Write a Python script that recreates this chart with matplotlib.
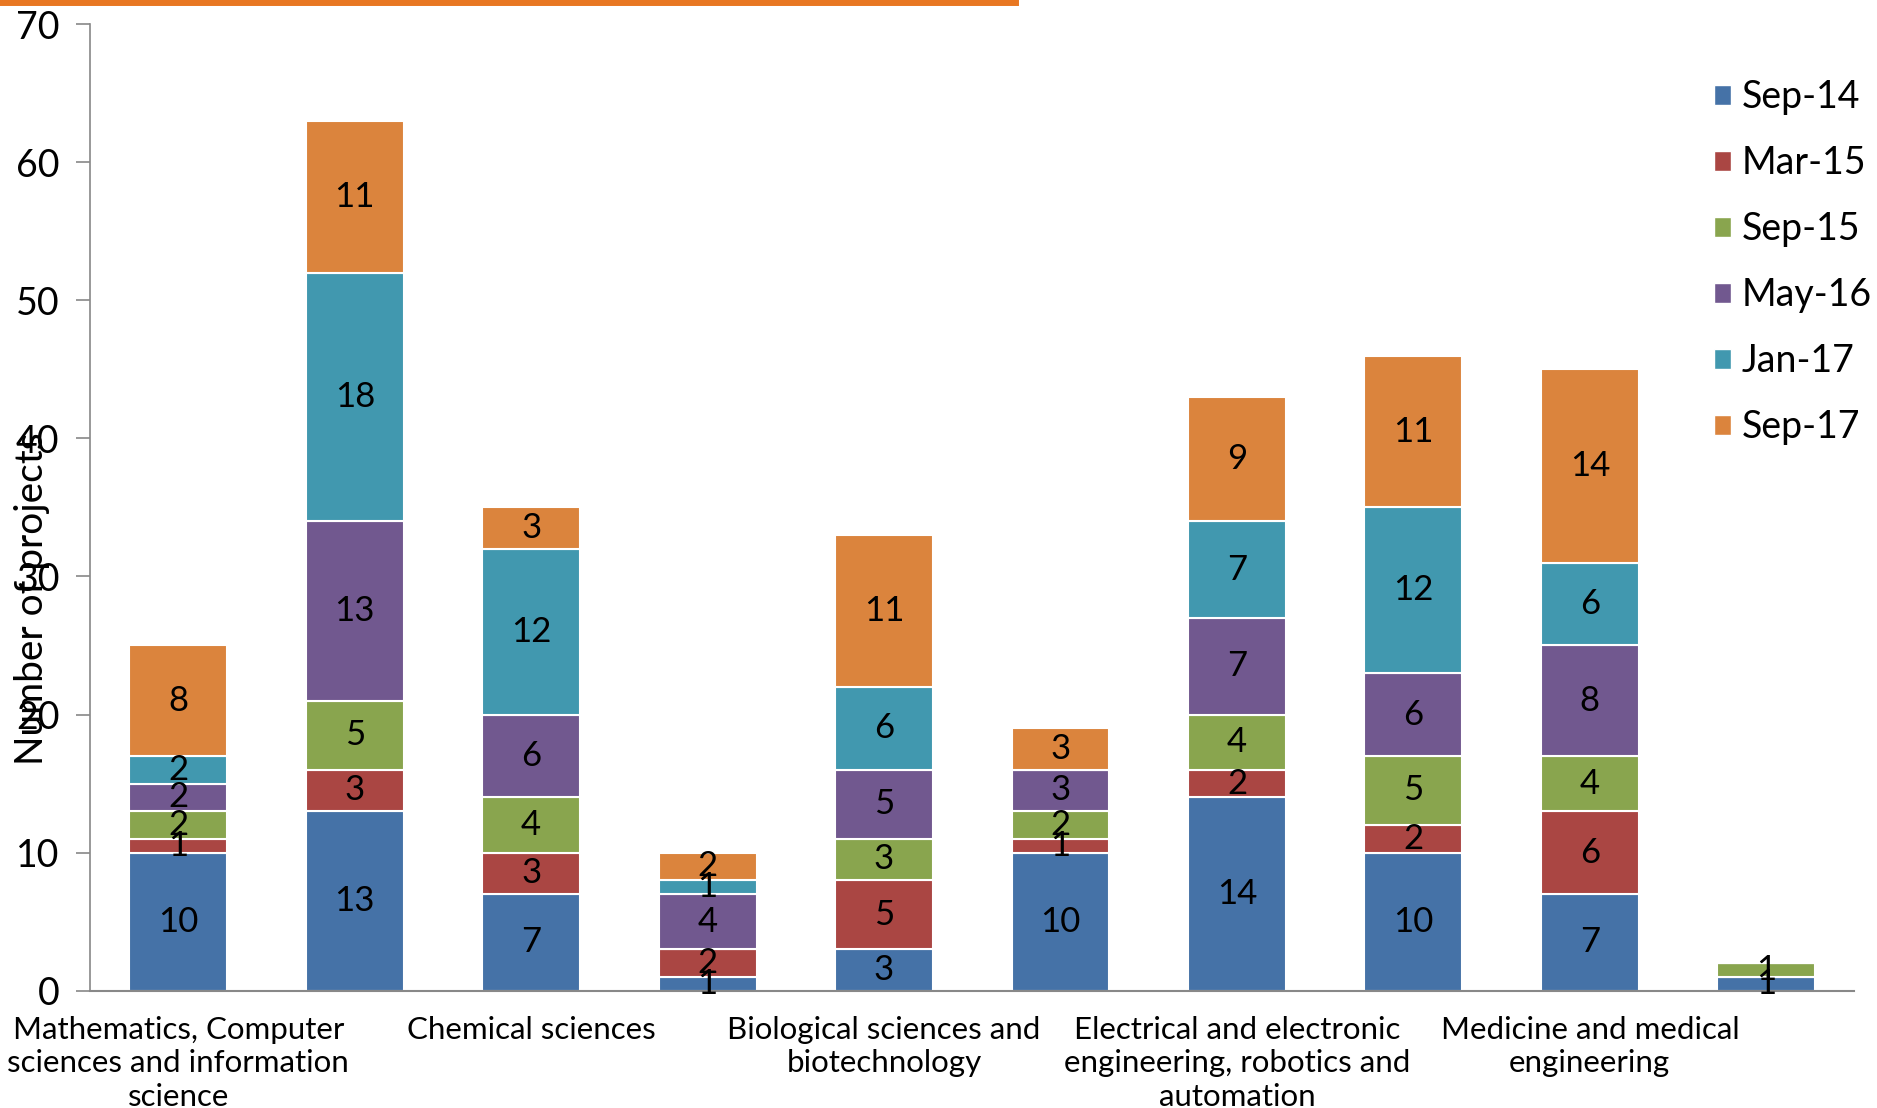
import numpy as np
import matplotlib
matplotlib.use("Agg")
import matplotlib.pyplot as plt
from matplotlib.patches import Patch, Rectangle
from matplotlib.lines import Line2D

plt.rcParams['font.family'] = ['Lato', 'DejaVu Sans']

categories = ["Mathematics, Computer\nsciences and information\nscience", "",
              "Chemical sciences", "",
              "Biological sciences and\nbiotechnology", "",
              "Electrical and electronic\nengineering, robotics and\nautomation", "",
              "Medicine and medical\nengineering", ""]
series = ["Sep-14", "Mar-15", "Sep-15", "May-16", "Jan-17", "Sep-17"]
sep14 = [10, 13, 7, 1, 3, 10, 14, 10, 7, 1]
mar15 = [1, 3, 3, 2, 5, 1, 2, 2, 6, 0]
sep15 = [2, 5, 4, 0, 3, 2, 4, 5, 4, 1]
may16 = [2, 13, 6, 4, 5, 3, 7, 6, 8, 0]
jan17 = [2, 18, 12, 1, 6, 0, 7, 12, 6, 0]
sep17 = [8, 11, 3, 2, 11, 3, 9, 11, 14, 0]
colors = ["#4572A7", "#AA4643", "#89A54E", "#71588F", "#4198AF", "#DB843D"]

values = [sep14, mar15, sep15, may16, jan17, sep17]

fig = plt.figure(figsize=(18.77, 11.08), dpi=100)
ax = fig.add_axes([0.048, 0.106, 0.94, 0.872])

x = np.arange(len(categories))
bottom = np.zeros(len(categories))
for name, vals, c in zip(series, values, colors):
    vals = np.array(vals, dtype=float)
    bars = ax.bar(x, vals, 0.555, bottom=bottom, color=c, edgecolor="white",
                  linewidth=1.5, label=name)
    for b, v, b0 in zip(bars, vals, bottom):
        if v > 0:
            ax.text(b.get_x() + b.get_width() / 2, b0 + v / 2, f"{int(v)}",
                    ha="center", va="center", fontsize=25, color="black")
    bottom += vals

ax.set_xlim(-0.5, 9.5)
ax.set_ylim(0, 70)
ax.set_yticks(range(0, 71, 10))
ax.tick_params(axis="y", labelsize=27, length=10, color="#888888", width=1.2, pad=12)
ax.set_xticks(x)
ax.set_xticklabels(categories, fontsize=22.5, linespacing=1.25)
ax.tick_params(axis="x", length=0, pad=18)
for s in ["top", "right"]:
    ax.spines[s].set_visible(False)
ax.spines["left"].set_color("#888888")
ax.spines["bottom"].set_color("#888888")
ax.spines["left"].set_linewidth(1.2)
ax.spines["bottom"].set_linewidth(1.5)

# y label, clipped like the original
yl = fig.text(0.017, 0.31, "Number of projects", rotation=90, fontsize=28,
              ha="center", va="bottom")
yl.set_clip_path(Rectangle((0, 0), 1, 0.61, transform=fig.transFigure))

handles = [Patch(facecolor=c, edgecolor="white") for c in colors]
ax.legend(handles, series, loc="upper left", bbox_to_anchor=(0.905, 0.942),
          bbox_transform=fig.transFigure, frameon=False, fontsize=27,
          handlelength=0.45, handleheight=0.45, handletextpad=0.3,
          labelspacing=0.8, borderaxespad=0)

# orange rule at the top
fig.add_artist(Line2D([0, 0.541], [0.998, 0.998], transform=fig.transFigure,
                      color="#E87722", linewidth=5))

fig.savefig("out.png", dpi=100)
